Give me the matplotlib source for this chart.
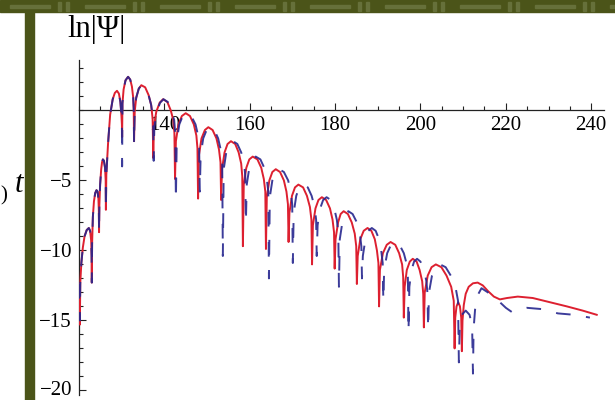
import matplotlib
matplotlib.use("Agg")
import matplotlib.pyplot as plt
from matplotlib.patches import Rectangle
from matplotlib.ticker import MultipleLocator, FixedLocator
from matplotlib.transforms import ScaledTranslation

# red solid curve (t, ln|Psi|)
red_t = [120.0, 120.2, 120.3, 120.55, 120.9, 121.3, 121.8, 122.3, 122.6, 122.85, 122.95,
         123.0, 123.07, 123.25, 123.5, 123.8, 124.1, 124.35, 124.55, 124.65,
         124.7, 124.77, 124.95, 125.2, 125.4, 125.6, 125.85, 126.1, 126.25,
         126.3, 126.4, 126.8, 127.3, 127.9, 128.4, 128.9, 129.35, 129.7, 129.95, 130.05,
         130.1, 130.18, 130.45, 130.9, 131.5, 132.0, 132.4, 132.7, 132.82,
         132.9, 133.05, 133.4, 134.0, 134.6, 135.5, 136.3, 136.9, 137.25,
         137.4, 137.55, 138.1, 138.9, 139.7, 140.7, 141.5, 142.1, 142.35,
         142.5, 142.7, 143.3, 144.1, 145.0, 146.0, 146.9, 147.5, 147.75,
         147.9, 148.1, 148.7, 149.5, 150.3, 151.3, 152.2, 152.8, 153.15,
         153.3, 153.5, 154.1, 154.8, 155.6, 156.6, 157.4, 158.0, 158.25,
         158.4, 158.6, 159.2, 159.9, 160.7, 161.8, 162.7, 163.3, 163.65,
         163.8, 164.0, 164.6, 165.3, 166.1, 167.1, 168.0, 168.6, 168.95,
         169.1, 169.3, 169.9, 170.6, 171.4, 172.5, 173.4, 174.1, 174.45,
         174.6, 174.8, 175.4, 176.1, 176.9, 177.9, 178.8, 179.4, 179.75,
         179.9, 180.1, 180.7, 181.3, 182.0, 183.0, 183.9, 184.6, 184.95,
         185.1, 185.3, 185.9, 186.7, 187.6, 188.5, 189.3, 189.8, 190.15,
         190.3, 190.5, 191.2, 192.1, 193.0, 194.1, 195.0, 195.7, 195.95,
         196.1, 196.3, 196.8, 197.5, 198.2, 199.1, 199.8, 200.4, 200.65,
         200.8, 201.0, 201.7, 202.6, 203.6, 204.9, 206.1, 207.2, 207.8,
         208.0, 208.15, 208.45, 208.85, 209.25, 209.55,
         209.7, 209.85, 210.15, 210.6, 211.3, 212.3, 213.4, 214.6, 215.8, 217.2,
         218.6, 220.3, 222.8, 226.3, 230.3, 234.3, 238.0, 241.3]
red_v = [-12.4, -15.3, -12.3, -10.9, -9.8, -9.0, -8.55, -8.4, -8.6, -9.3, -10.4,
         -12.3, -9.5, -7.6, -6.5, -5.9, -5.7, -5.8, -6.3, -7.2,
         -8.7, -6.8, -5.3, -4.2, -3.7, -3.5, -3.6, -4.1, -5.0,
         -7.1, -4.6, -2.4, -0.3, 0.8, 1.25, 1.4, 1.2, 0.6, -0.4, -1.0,
         -1.9, 0.5, 1.5, 2.15, 2.4, 2.2, 1.7, 0.9, 0.1,
         -2.2, -0.1, 0.9, 1.55, 1.8, 1.65, 1.1, 0.4, -0.6,
         -3.4, -1.2, -0.1, 0.55, 0.8, 0.6, 0.0, -0.7, -1.6,
         -4.9, -2.2, -1.0, -0.4, -0.2, -0.4, -1.0, -1.8, -2.7,
         -6.3, -3.2, -2.0, -1.4, -1.2, -1.4, -2.0, -2.8, -3.7,
         -6.4, -4.2, -3.0, -2.4, -2.2, -2.4, -3.0, -3.8, -4.7,
         -9.7, -5.3, -4.1, -3.5, -3.3, -3.5, -4.1, -4.9, -5.8,
         -9.9, -6.2, -5.0, -4.4, -4.2, -4.4, -5.0, -5.8, -6.7,
         -9.4, -7.3, -6.1, -5.5, -5.3, -5.5, -6.1, -6.9, -7.8,
         -11.0, -8.2, -7.0, -6.4, -6.2, -6.4, -7.0, -7.8, -8.7,
         -11.3, -9.2, -8.0, -7.4, -7.2, -7.4, -8.0, -8.8, -9.7,
         -12.4, -10.4, -9.2, -8.6, -8.4, -8.6, -9.2, -10.0, -10.9,
         -14.0, -11.4, -10.2, -9.6, -9.4, -9.6, -10.2, -11.0, -11.9,
         -14.8, -12.6, -11.4, -10.8, -10.6, -10.8, -11.4, -12.2, -13.1,
         -15.5, -13.0, -11.8, -11.2, -11.0, -11.2, -11.8, -12.6, -13.6,
         -17.0, -14.8, -14.0, -13.7, -14.0, -14.8,
         -17.2, -15.0, -13.9, -13.1, -12.6, -12.35, -12.3, -12.5, -12.9, -13.3,
         -13.5, -13.4, -13.3, -13.4, -13.7, -14.0, -14.3, -14.6]

# blue dashed curve
blue_t = [120.0, 120.2, 120.3, 120.55, 120.9, 121.3, 121.8, 122.3, 122.6, 122.85, 122.95,
          123.0, 123.07, 123.25, 123.5, 123.8, 124.1, 124.35, 124.55, 124.65,
          124.7, 124.77, 124.95, 125.2, 125.4, 125.6, 125.85, 126.1, 126.25,
          126.3, 126.4, 126.8, 127.3, 127.9, 128.4, 128.9, 129.35, 129.7, 129.95, 130.05,
          130.1, 130.18, 130.45, 130.9, 131.5, 132.0, 132.4, 132.7, 132.82,
          132.9, 133.05, 133.4, 134.0, 134.6, 135.5, 136.3, 136.9, 137.35,
          137.5, 137.65, 138.2, 139.0, 139.8, 140.8, 141.7, 142.3, 142.55,
          142.7, 142.9, 143.5, 144.3, 145.3, 146.3, 147.3, 147.9, 148.15,
          148.3, 148.5, 149.1, 149.9, 150.7, 151.7, 152.6, 153.2, 153.55,
          153.7, 153.9, 154.5, 155.2, 156.1, 157.1, 158.0, 158.7, 158.95,
          159.1, 159.3, 159.9, 160.6, 161.4, 162.5, 163.4, 164.0, 164.35,
          164.5, 164.7, 165.3, 166.1, 166.9, 168.0, 169.0, 169.6, 169.95,
          170.1, 170.3, 170.9, 171.6, 172.5, 173.6, 174.5, 175.2, 175.55,
          175.7, 175.9, 176.5, 177.2, 178.0, 179.0, 179.8, 180.4, 180.75,
          180.9, 181.1, 181.7, 182.4, 183.1, 184.1, 185.1, 185.8, 186.15,
          186.3, 186.5, 187.1, 187.8, 188.6, 189.5, 190.3, 190.8, 191.15,
          191.3, 191.5, 192.2, 193.1, 194.0, 195.1, 196.1, 196.8, 197.05,
          197.2, 197.4, 197.9, 198.5, 199.2, 200.0, 200.8, 201.4, 201.65,
          201.8, 202.0, 202.7, 203.6, 204.6, 205.9, 207.1, 208.2, 208.8,
          209.0, 209.2, 209.7, 210.6, 211.5, 212.1,
          212.3, 212.45, 212.8, 213.4, 214.3, 215.8, 217.2, 218.6, 220.0, 221.4,
          223.0, 224.9, 228.7, 232.2, 236.0, 239.7]
blue_v = [-12.4, -15.0, -12.3, -10.9, -9.8, -9.0, -8.55, -8.4, -8.6, -9.3, -10.4,
          -12.3, -9.5, -7.6, -6.5, -5.9, -5.7, -5.8, -6.3, -7.2,
          -8.7, -6.8, -5.3, -4.2, -3.7, -3.5, -3.6, -4.1, -5.0,
          -7.1, -4.6, -2.4, -0.3, 0.8, 1.25, 1.4, 1.2, 0.6, -0.4, -1.0,
          -4.0, 0.5, 1.5, 2.15, 2.4, 2.2, 1.7, 0.9, 0.1,
          -2.4, -0.1, 0.9, 1.55, 1.8, 1.65, 1.1, 0.4, -0.6,
          -3.6, -1.2, -0.1, 0.55, 0.8, 0.6, 0.0, -0.7, -1.6,
          -6.4, -2.2, -1.0, -0.4, -0.2, -0.4, -1.0, -1.8, -2.7,
          -5.8, -3.2, -2.0, -1.4, -1.2, -1.4, -2.0, -2.8, -3.7,
          -10.4, -4.2, -3.0, -2.4, -2.2, -2.4, -3.0, -3.8, -4.7,
          -8.0, -5.3, -4.1, -3.5, -3.3, -3.5, -4.1, -4.9, -5.8,
          -12.0, -6.2, -5.0, -4.4, -4.2, -4.4, -5.0, -5.8, -6.7,
          -10.9, -7.3, -6.1, -5.5, -5.3, -5.5, -6.1, -6.9, -7.8,
          -10.4, -8.2, -7.0, -6.4, -6.2, -6.4, -7.0, -7.8, -8.7,
          -12.6, -9.2, -8.0, -7.4, -7.2, -7.4, -8.0, -8.8, -9.7,
          -12.0, -10.4, -9.2, -8.6, -8.4, -8.6, -9.2, -10.0, -10.9,
          -13.6, -11.4, -10.2, -9.6, -9.4, -9.6, -10.2, -11.0, -11.9,
          -15.8, -12.6, -11.4, -10.8, -10.6, -10.8, -11.4, -12.2, -13.1,
          -15.6, -13.0, -11.8, -11.2, -11.0, -11.2, -11.8, -12.6, -13.6,
          -18.0, -15.4, -14.6, -14.3, -14.6, -15.4,
          -18.8, -15.6, -14.2, -13.2, -12.7, -13.0, -13.4, -13.7, -14.1, -14.4,
          -14.2, -14.1, -14.2, -14.5, -14.6, -14.8]

x_major = [140, 160, 180, 200, 220, 240]
y_major = [-20, -15, -10, -5]

W, H = 615, 400
fig = plt.figure(figsize=(W / 100, H / 100), dpi=100)
serif = ["Liberation Serif", "DejaVu Serif"]

# slide decoration: olive band on top and bar on the left
olive = "#4b5419"
light = "#66703a"
fig.patches.append(Rectangle((0, 1 - 12 / H), 1, 12 / H, transform=fig.transFigure,
                             color=olive, zorder=0))
fig.patches.append(Rectangle((25 / W, 0), 9 / W, 1, transform=fig.transFigure,
                             color=olive, zorder=0))
for k in range(9):
    x0 = (k * 75 + 10) / W
    fig.patches.append(Rectangle((x0, 1 - 8 / H), 40 / W, 3 / H,
                                 transform=fig.transFigure, color=light, zorder=1))
    fig.patches.append(Rectangle((x0 + 48 / W, 1 - 11 / H), 3 / W, 9 / H,
                                 transform=fig.transFigure, color=light, zorder=1))
    fig.patches.append(Rectangle((x0 + 56 / W, 1 - 11 / H), 3 / W, 9 / H,
                                 transform=fig.transFigure, color=light, zorder=1))

# leftover text of the slide at the left edge
fig.text(19 / W, 1 - 185 / H, "t", family=serif, style="italic", fontsize=22,
         ha="center", va="center")
fig.text(0.5 / W, 1 - 196 / H, ")", family=serif, fontsize=15, ha="left", va="center")

ax = fig.add_axes([79 / W, 5.4 / H, 525 / W, 334.6 / H])
ax.set_xlim(120, 243)
ax.set_ylim(-20.3, 3.6)
ax.patch.set_alpha(0)

ax.plot(red_t, red_v, color="#dd2030", lw=1.4, zorder=3)
ax.plot(blue_t, blue_v, color="#27278f", lw=1.4, zorder=4,
        dashes=(7.5, 8), alpha=0.9)

for s in ["top", "right"]:
    ax.spines[s].set_visible(False)
ax.spines["bottom"].set_position(("data", 0))
ax.spines["left"].set_position(("data", 120))
for s in ["bottom", "left"]:
    ax.spines[s].set_linewidth(0.9)
    ax.spines[s].set_color("#222222")

ax.xaxis.set_major_locator(FixedLocator(x_major))
ax.xaxis.set_minor_locator(MultipleLocator(5))
ax.yaxis.set_major_locator(FixedLocator(y_major))
ax.yaxis.set_minor_locator(MultipleLocator(1))
ax.tick_params(which="both", direction="in", color="#222222", width=0.8)
ax.tick_params(which="major", length=5, labelsize=15, pad=4)
ax.tick_params(which="minor", length=3)
ax.set_xticklabels([str(v) for v in x_major], family=serif)
ax.set_yticklabels(["\u2212" + str(-v) for v in y_major], family=serif)
ax.tick_params(axis="y", pad=5)
for lab in ax.get_xticklabels():
    lab.set_zorder(5)
# lowest label sits at the very bottom edge, kept just inside the picture
low = ax.get_yticklabels()[0]
low.set_va("bottom")
low.set_transform(low.get_transform() + ScaledTranslation(0, -7 / 72, fig.dpi_scale_trans))

fig.text(67 / W, 1 - 30 / H, "ln|\u03a8|", family=serif, fontsize=22,
         ha="left", va="center")

fig.savefig("out.png", dpi=100)
